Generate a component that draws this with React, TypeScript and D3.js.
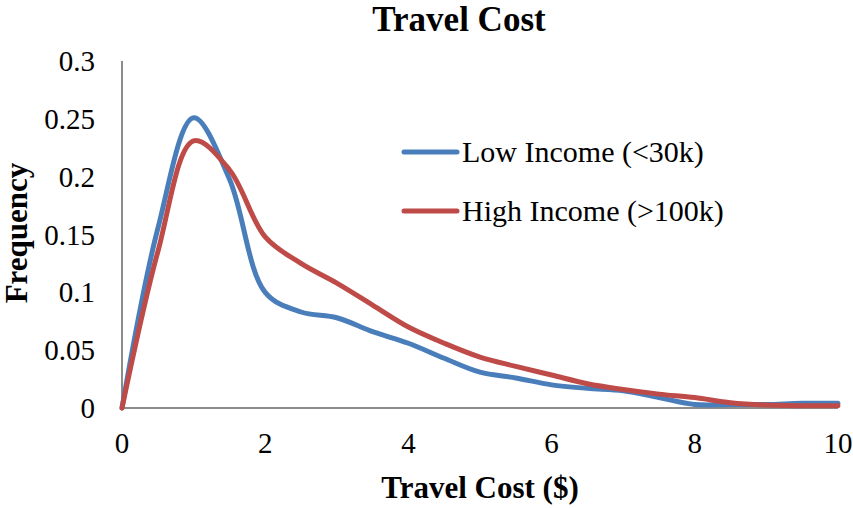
import { useMemo } from "react";
import * as d3 from "d3";

// travel cost ($) sample points
const costs = [0, 0.5, 1, 1.5, 2, 2.5, 3, 3.5, 4, 4.5, 5, 5.5, 6, 6.5, 7, 7.5, 8, 8.5, 9, 9.5, 10];

const lowIncome = [
  0, 0.155, 0.251, 0.198, 0.1, 0.083, 0.078, 0.066, 0.056, 0.043, 0.031,
  0.026, 0.02, 0.017, 0.015, 0.009, 0.003, 0.003, 0.003, 0.004, 0.004,
];

const highIncome = [
  0, 0.135, 0.231, 0.206, 0.148, 0.125, 0.108, 0.089, 0.07, 0.056, 0.044,
  0.036, 0.0285, 0.021, 0.016, 0.012, 0.009, 0.0045, 0.0025, 0.002, 0.002,
];

const xTicks = [0, 2, 4, 6, 8, 10];
const yTicks = [0, 0.05, 0.1, 0.15, 0.2, 0.25, 0.3];

const seriesNames = ["Low Income (<30k)", "High Income (>100k)"];
const seriesColors = ["#4A7EBB", "#BE4B48"];

const W = 853;
const H = 508;
const FONT = "'Liberation Serif', 'DejaVu Serif', serif";

export default function App() {
  const x = d3.scaleLinear().domain([0, 10]).range([122, 838]);
  const y = d3.scaleLinear().domain([0, 0.3]).range([408, 61]);

  const paths = useMemo(() => {
    const line = d3
      .line<number>()
      .x((_, i) => x(costs[i]))
      .y((d) => y(d))
      .curve(d3.curveCatmullRom.alpha(0.5));
    return [line(lowIncome), line(highIncome)];
  }, []);

  return (
    <svg
      width={W}
      height={H}
      style={{ position: "absolute", left: 0, top: 0, background: "#fff" }}
      fontFamily={FONT}
    >
      <text x={459} y={31} textAnchor="middle" fontSize={35} fontWeight="bold">
        Travel Cost
      </text>

      {/* axes */}
      <line x1={x(0)} x2={x(0)} y1={y(0.3)} y2={y(0)} stroke="#8c8c8c" strokeWidth={2} />
      <line x1={x(0)} x2={x(10)} y1={y(0)} y2={y(0)} stroke="#8c8c8c" strokeWidth={2} />

      {yTicks.map((t) => (
        <text key={t} x={95} y={y(t)} dy="0.35em" textAnchor="end" fontSize={29}>
          {String(t)}
        </text>
      ))}
      {xTicks.map((t) => (
        <text key={t} x={x(t)} y={453} textAnchor="middle" fontSize={29}>
          {t}
        </text>
      ))}

      <text x={480} y={498} textAnchor="middle" fontSize={31} fontWeight="bold">
        Travel Cost ($)
      </text>
      <text
        transform={`translate(27, 233) rotate(-90)`}
        textAnchor="middle"
        fontSize={31}
        fontWeight="bold"
      >
        Frequency
      </text>

      {paths.map((d, i) => (
        <path
          key={i}
          d={d ?? ""}
          fill="none"
          stroke={seriesColors[i]}
          strokeWidth={5}
          strokeLinejoin="round"
          strokeLinecap="round"
        />
      ))}

      {seriesNames.map((name, i) => (
        <g key={name} transform={`translate(0, ${152 + i * 59})`}>
          <line x1={404} x2={457} y1={0} y2={0} stroke={seriesColors[i]} strokeWidth={5} strokeLinecap="round" />
          <text x={462} y={0} dy="0.33em" fontSize={30}>
            {name}
          </text>
        </g>
      ))}
    </svg>
  );
}
